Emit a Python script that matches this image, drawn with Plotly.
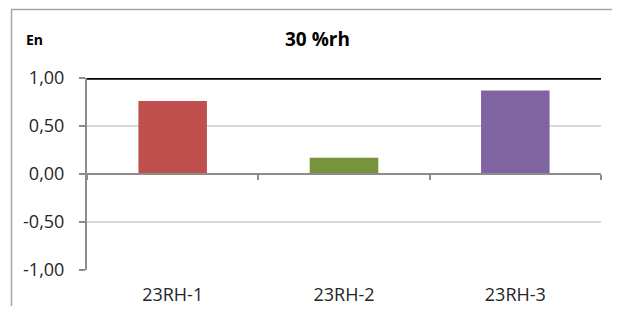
import plotly.graph_objects as go

categories = ["23RH-1", "23RH-2", "23RH-3"]
en_values = [0.76, 0.17, 0.87]
bar_colors = ["#C0504D", "#77933C", "#8064A2"]
limit_value = 1.0
y_ticks = [-1.0, -0.5, 0.0, 0.5, 1.0]
y_tick_text = ["-1,00", "-0,50", "0,00", "0,50", "1,00"]

# page body has an 8px margin, so the figure sits at (8, 8) in the window
W, H = 604, 298
L, R, T, B = 79, 11, 70, 36
pw = W - L - R
ph = H - T - B


def px_x(x):
    return (x - L) / pw


def px_y(y):
    return (H - B - y) / ph


fig = go.Figure()
fig.add_trace(go.Bar(
    x=categories, y=en_values, marker=dict(color=bar_colors, line=dict(width=0)),
    width=0.4, showlegend=False, xaxis="x", yaxis="y",
))
fig.add_trace(go.Bar(x=categories, y=[None] * len(categories), xaxis="x2", yaxis="y",
                     showlegend=False, hoverinfo="skip"))

zero_pos = (0 - y_ticks[0]) / (y_ticks[-1] - y_ticks[0])
font_family = "Open Sans, Liberation Sans, sans-serif"

fig.update_layout(
    width=W, height=H,
    margin=dict(l=L, r=R, t=T, b=B),
    paper_bgcolor="white", plot_bgcolor="white",
    font=dict(family=font_family, size=18, color="#262626"),
    xaxis=dict(
        type="category", showline=False, showgrid=False, ticks="",
        tickfont=dict(size=18), domain=[0, 1], ticklabelstandoff=12,
        automargin=False,
    ),
    xaxis2=dict(
        type="category", overlaying="x", anchor="free", position=zero_pos,
        side="bottom", matches="x",
        showline=True, linecolor="#8C8C8C", linewidth=2,
        ticks="outside", tickson="boundaries", ticklen=5, tickcolor="#8C8C8C", tickwidth=1.5,
        showticklabels=False, showgrid=False,
    ),
    yaxis=dict(
        range=[y_ticks[0], y_ticks[-1]], tickvals=y_ticks, ticktext=y_tick_text,
        showgrid=True, gridcolor="#D9D9D9", gridwidth=1.5,
        zeroline=False,
        showline=True, linecolor="#8C8C8C", linewidth=2,
        ticks="outside", ticklen=6, tickcolor="#8C8C8C", tickwidth=1.5,
        tickfont=dict(size=18), ticklabelstandoff=11,
    ),
    shapes=[
        dict(type="line", xref="paper", yref="y", x0=0, x1=1,
             y0=limit_value, y1=limit_value, line=dict(color="black", width=3.5)),
        dict(type="line", xref="paper", yref="paper",
             x0=px_x(3), x1=px_x(W + 5), y0=px_y(1.5), y1=px_y(1.5),
             line=dict(color="#A6A6A6", width=1.5), layer="below"),
        dict(type="line", xref="paper", yref="paper",
             x0=px_x(3.5), x1=px_x(3.5), y0=px_y(1), y1=px_y(H + 5),
             line=dict(color="#A6A6A6", width=1.5), layer="below"),
    ],
    annotations=[
        dict(text="<b>30 %rh</b>", xref="paper", yref="paper",
             x=px_x(309), y=px_y(31), showarrow=False,
             font=dict(size=19, color="black"), xanchor="center", yanchor="middle"),
        dict(text="<b>En</b>", xref="paper", yref="paper",
             x=px_x(16), y=px_y(31), showarrow=False,
             font=dict(size=14, color="black"), xanchor="left", yanchor="middle"),
    ],
)

fig.write_html("out.html")
